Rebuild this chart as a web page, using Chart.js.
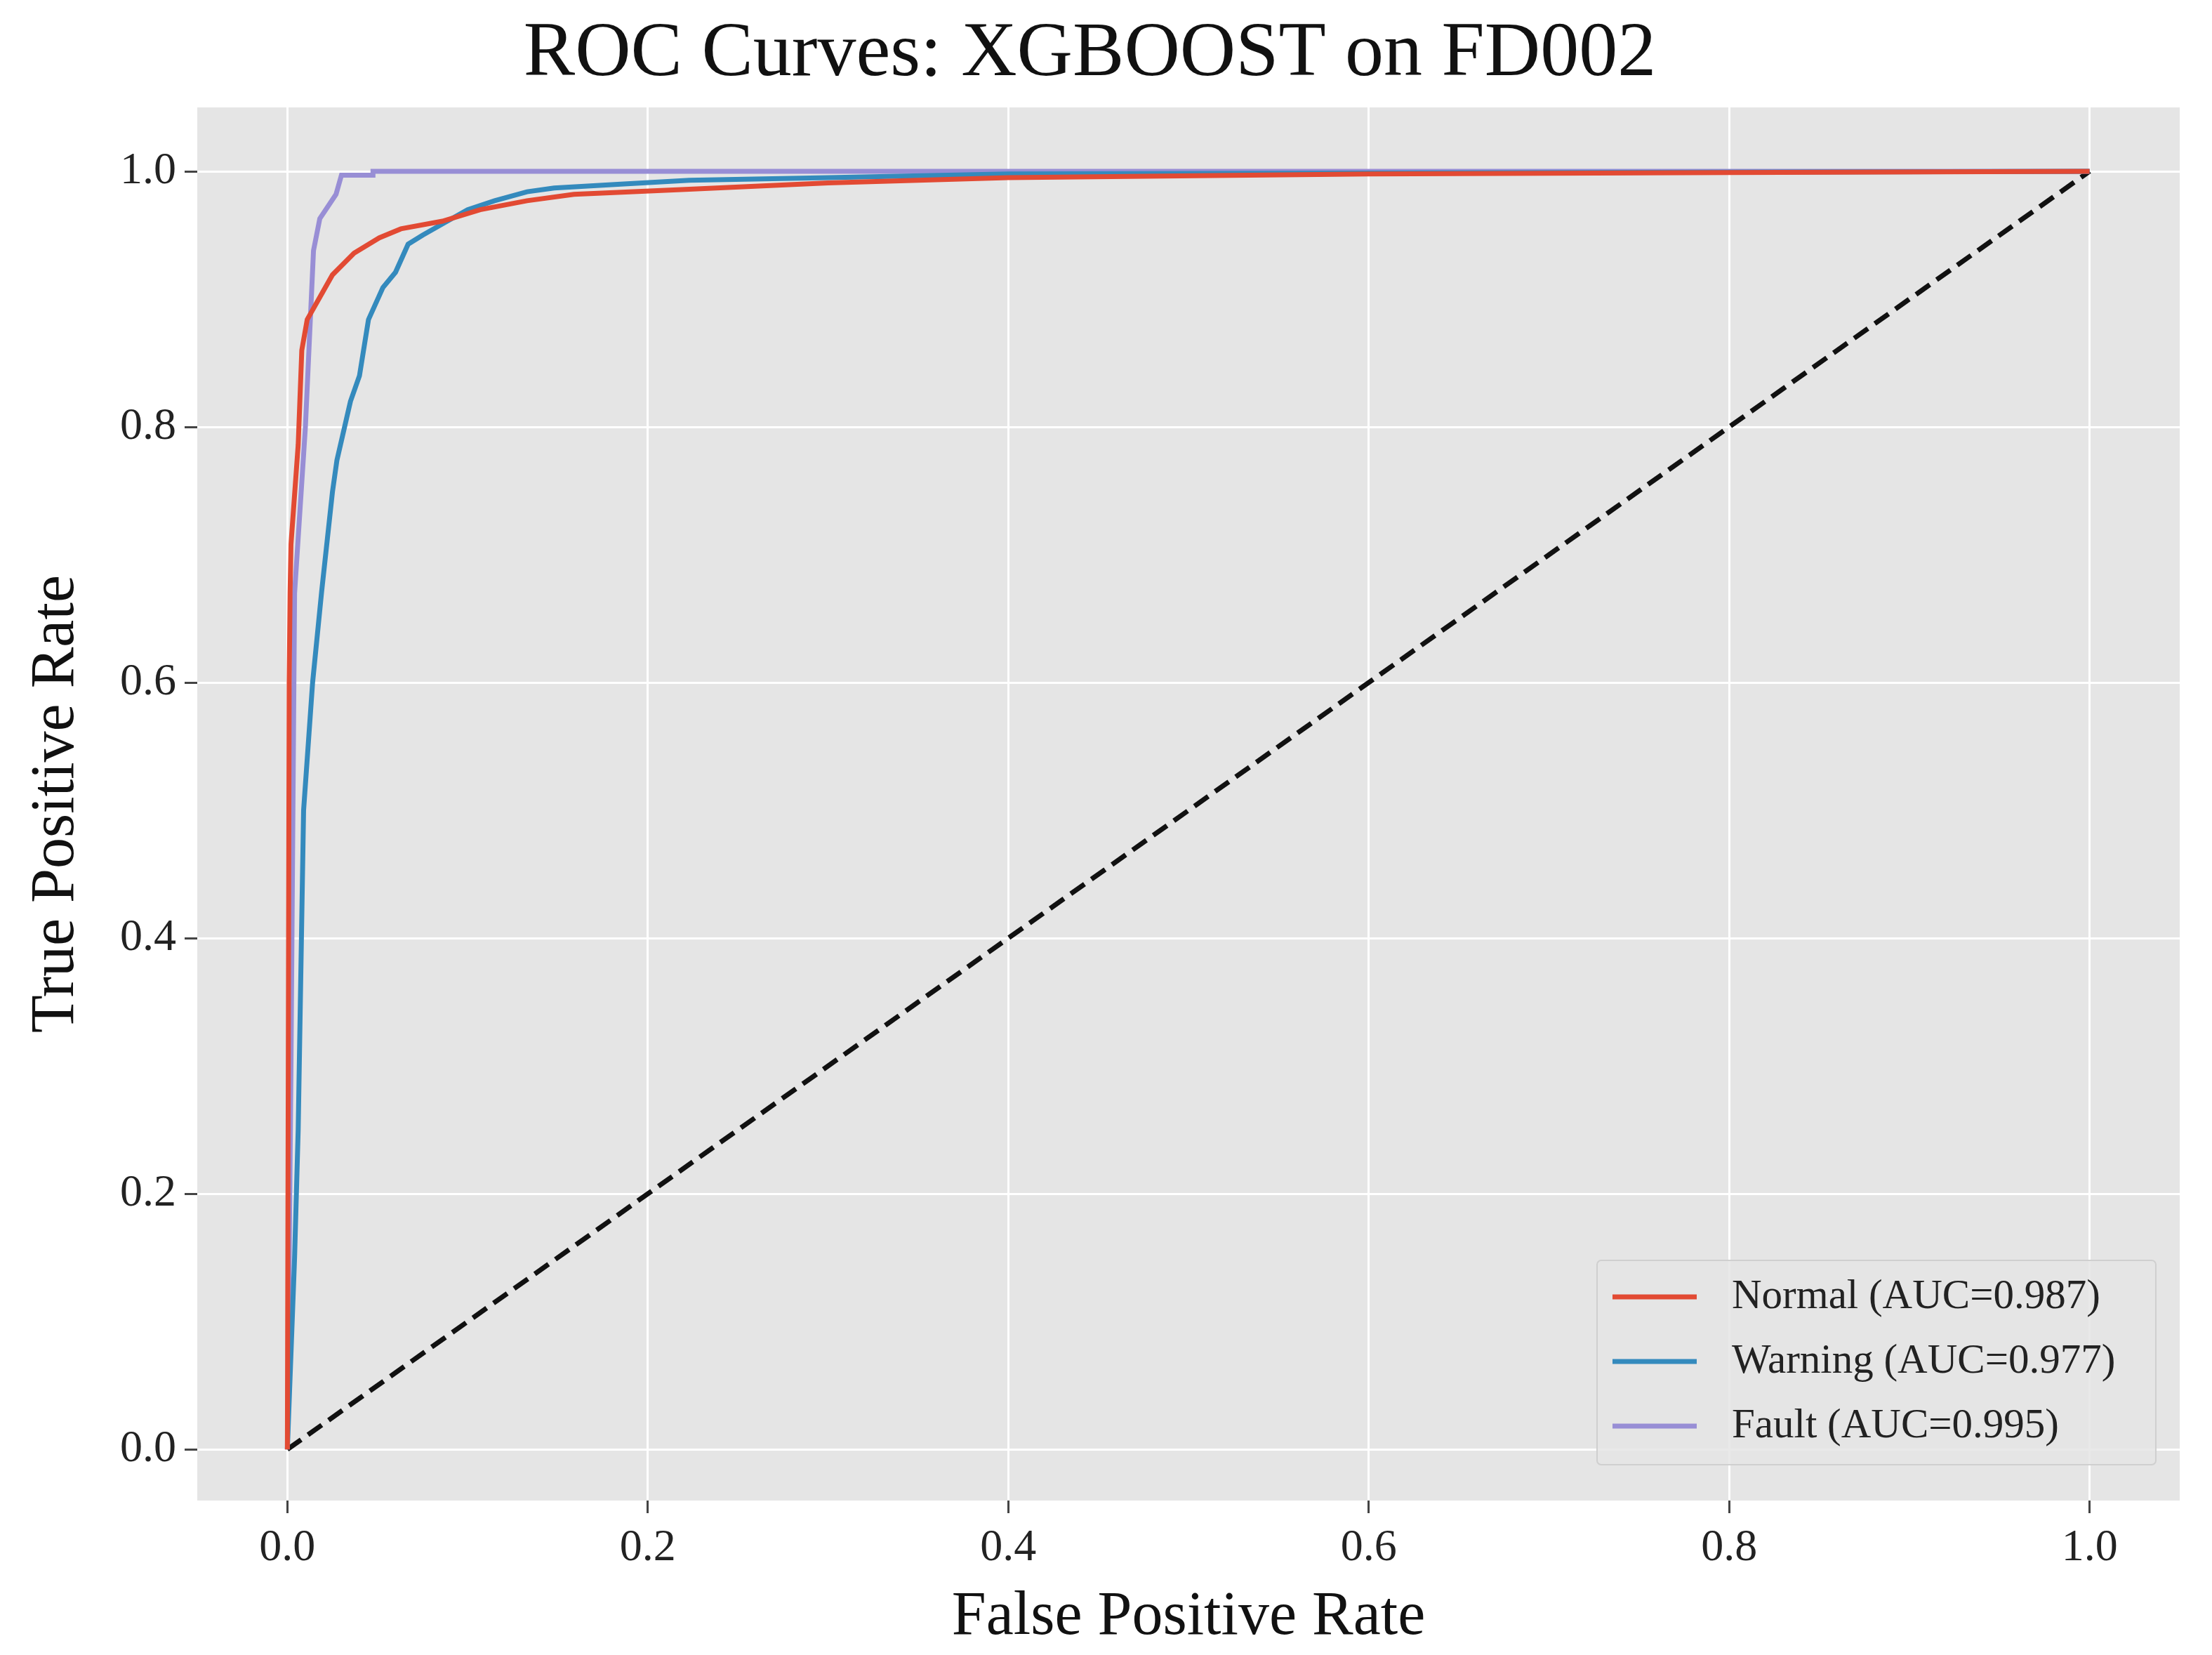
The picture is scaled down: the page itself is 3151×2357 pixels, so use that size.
<!DOCTYPE html>
<html>
<head>
<meta charset="utf-8">
<script src="https://cdn.jsdelivr.net/npm/chart.js@4.4.1/dist/chart.umd.min.js"></script>
<style>
  html, body { margin: 0; padding: 0; background: #fff; }
  #wrap { width: 3151px; height: 2357px; }
</style>
</head>
<body>
<div id="wrap"><canvas id="roc"></canvas></div>
<script>
// ---- Data ----
const tickValues = [0, 0.2, 0.4, 0.6, 0.8, 1.0];

const normalFpr = [0, 0.0005, 0.001, 0.0015, 0.002, 0.006, 0.008, 0.011, 0.019, 0.025, 0.037, 0.051, 0.063, 0.086, 0.107, 0.133, 0.159, 0.223, 0.3, 0.4, 0.6, 0.8, 1.0];
const normalTpr = [0, 0.3, 0.6, 0.67, 0.708, 0.786, 0.86, 0.884, 0.904, 0.919, 0.936, 0.948, 0.955, 0.961, 0.970, 0.977, 0.982, 0.986, 0.991, 0.995, 0.998, 0.999, 1.0];

const warningFpr = [0, 0.004, 0.006, 0.009, 0.014, 0.019, 0.025, 0.0275, 0.035, 0.040, 0.045, 0.053, 0.060, 0.067, 0.075, 0.0875, 0.100, 0.115, 0.133, 0.148, 0.185, 0.223, 0.3, 0.4, 1.0];
const warningTpr = [0, 0.15, 0.25, 0.5, 0.6, 0.671, 0.749, 0.774, 0.820, 0.840, 0.884, 0.909, 0.921, 0.943, 0.950, 0.960, 0.970, 0.977, 0.984, 0.987, 0.990, 0.993, 0.995, 0.998, 1.0];

const faultFpr = [0, 0.002, 0.004, 0.010, 0.0145, 0.018, 0.027, 0.030, 0.0475, 0.0475, 1.0];
const faultTpr = [0, 0.3, 0.67, 0.8, 0.938, 0.963, 0.982, 0.997, 0.997, 1.0, 1.0];

const chanceFpr = [0, 1];
const chanceTpr = [0, 1];

const seriesNames = ['Normal (AUC=0.987)', 'Warning (AUC=0.977)', 'Fault (AUC=0.995)'];
const seriesColors = ['#E24A33', '#348ABD', '#988ED5'];

const FONT = "'Liberation Serif', 'DejaVu Serif', serif";

const toPoints = (xs, ys) => xs.map((x, i) => ({ x: x, y: ys[i] }));

// grey panel behind the plot
const panelBg = {
    id: 'panelBg',
    beforeDraw(chart) {
        const { ctx, chartArea: a } = chart;
        ctx.save();
        ctx.fillStyle = '#e5e5e5';
        ctx.fillRect(a.left, a.top, a.right - a.left, a.bottom - a.top);
        ctx.restore();
    }
};

// legend box inside the bottom-right of the plot
const innerLegend = {
    id: 'innerLegend',
    afterDatasetsDraw(chart) {
        const { ctx } = chart;
        const x0 = 2275, y0 = 1795, w = 796, h = 291;
        ctx.save();
        ctx.fillStyle = 'rgba(229,229,229,0.85)';
        ctx.strokeStyle = '#cfcfcf';
        ctx.lineWidth = 2;
        ctx.beginPath();
        ctx.roundRect(x0, y0, w, h, 6);
        ctx.fill();
        ctx.stroke();
        ctx.font = '59px ' + FONT;
        ctx.textBaseline = 'middle';
        seriesNames.forEach((name, i) => {
            const cy = y0 + 52 + i * 92;
            ctx.strokeStyle = seriesColors[i];
            ctx.lineWidth = 7;
            ctx.beginPath();
            ctx.moveTo(x0 + 22, cy);
            ctx.lineTo(x0 + 142, cy);
            ctx.stroke();
            ctx.fillStyle = '#222';
            ctx.fillText(name, x0 + 192, cy);
        });
        ctx.restore();
    }
};

const lineSet = (label, data, color) => ({
    label: label,
    data: data,
    showLine: true,
    borderColor: color,
    backgroundColor: color,
    borderWidth: 7,
    pointRadius: 0,
    tension: 0
});

new Chart(document.getElementById('roc'), {
    type: 'scatter',
    data: {
        datasets: [
            lineSet(seriesNames[0], toPoints(normalFpr, normalTpr), seriesColors[0]),
            lineSet(seriesNames[1], toPoints(warningFpr, warningTpr), seriesColors[1]),
            lineSet(seriesNames[2], toPoints(faultFpr, faultTpr), seriesColors[2]),
            Object.assign(lineSet('chance', toPoints(chanceFpr, chanceTpr), '#111'), { borderDash: [24, 12] })
        ]
    },
    options: {
        responsive: true,
        maintainAspectRatio: false,
        animation: false,
        devicePixelRatio: 1,
        layout: { padding: { left: 0, right: 46, top: 0, bottom: 0 } },
        plugins: {
            legend: { display: false },
            tooltip: { enabled: false },
            title: {
                display: true,
                text: 'ROC Curves: XGBOOST on FD002',
                color: '#111',
                font: { family: FONT, size: 110, weight: 'normal' },
                padding: { top: 12, bottom: 9 }
            }
        },
        scales: {
            x: {
                type: 'linear',
                min: -0.05,
                max: 1.05,
                afterBuildTicks: (s) => { s.ticks = tickValues.map(v => ({ value: v })); },
                afterFit: (s) => { s.height = 220; },
                grid: { color: '#ffffff', lineWidth: 3, tickColor: '#444', tickLength: 18, drawTicks: true },
                border: { display: false },
                ticks: {
                    color: '#222',
                    padding: 12,
                    font: { family: FONT, size: 64 },
                    callback: (v) => v.toFixed(1)
                },
                title: {
                    display: true,
                    text: 'False Positive Rate',
                    color: '#111',
                    font: { family: FONT, size: 88 },
                    padding: { top: 0, bottom: 0 }
                }
            },
            y: {
                type: 'linear',
                min: -0.04,
                max: 1.05,
                afterBuildTicks: (s) => { s.ticks = tickValues.map(v => ({ value: v })); },
                afterFit: (s) => { s.width = 281; },
                grid: { color: '#ffffff', lineWidth: 3, tickColor: '#444', tickLength: 18, drawTicks: true },
                border: { display: false },
                ticks: {
                    color: '#222',
                    padding: 12,
                    font: { family: FONT, size: 64 },
                    callback: (v) => v.toFixed(1)
                },
                title: {
                    display: true,
                    text: 'True Positive Rate',
                    color: '#111',
                    font: { family: FONT, size: 88 },
                    padding: { top: 28, bottom: 0 }
                }
            }
        }
    },
    plugins: [panelBg, innerLegend]
});
</script>
</body>
</html>
